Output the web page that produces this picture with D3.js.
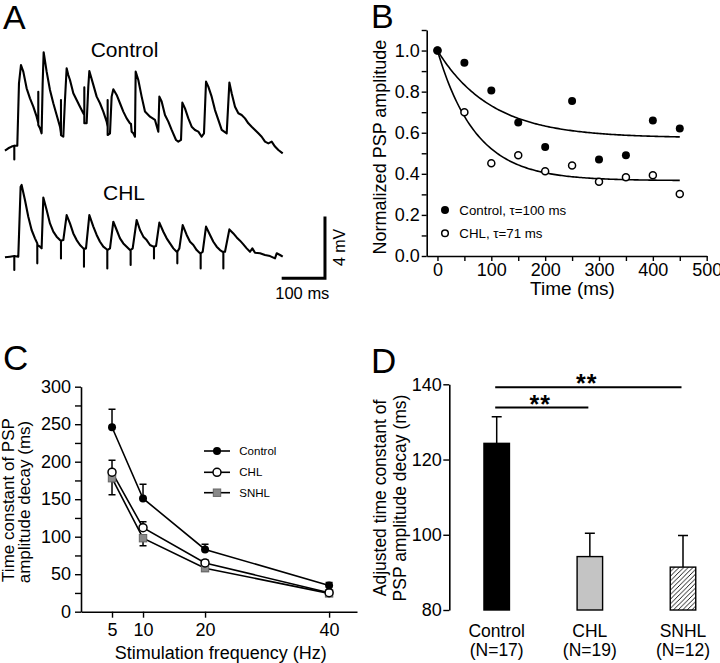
<!DOCTYPE html>
<html><head><meta charset="utf-8">
<script src="https://cdn.jsdelivr.net/npm/d3@7"></script>
<style>
body{margin:0;background:#fff}
svg{display:block}
text{font-family:"Liberation Sans",Arial,Helvetica,sans-serif;fill:#000}
</style>
</head><body>
<svg id="fig" width="720" height="663"></svg>
<script>
// ---------- Panel A: example traces, [time ms, mV] ----------
const traceControl = [[-21.6,-0.04],[-13.9,0.11],[-6.2,0.22],[0,0.28],[0,-0.61],[0,0.28],[6.9,0.28],[10.8,4.32],[15.4,5.51],[20.8,5.08],[28.5,4.0],[36.2,3.35],[43.9,2.81],[51.6,2.16],[55.4,1.73],[55.4,3.78],[55.4,1.62],[59.3,1.41],[63.1,1.08],[65.5,4.32],[67.8,6.34],[74.7,5.08],[82.4,3.89],[90.1,3.03],[97.8,2.27],[105.5,1.51],[107.8,1.08],[107.8,3.24],[107.8,0.97],[113.2,0.86],[117.0,3.24],[120.9,5.30],[124.7,4.86],[128.6,4.54],[132.4,4.11],[136.3,3.68],[144.0,3.24],[151.7,2.81],[159.4,2.38],[161.7,2.27],[161.7,4.06],[161.7,1.73],[167.1,1.73],[170.9,4.11],[173.3,5.12],[182.5,4.22],[190.2,3.46],[197.9,3.03],[205.6,2.49],[213.3,1.84],[215.6,1.51],[215.6,3.24],[215.6,0.97],[221.0,1.08],[224.8,3.46],[228.7,3.94],[236.4,3.57],[244.1,3.03],[251.8,2.49],[259.5,2.05],[267.2,1.73],[269.5,1.69],[271.0,1.19],[274.9,1.08],[278.7,0.86],[280.3,5.08],[286.4,4.54],[294.1,3.46],[301.8,2.49],[313.4,2.16],[324.9,1.95],[332.6,1.19],[335.0,3.46],[340.3,3.14],[348.0,2.27],[355.7,1.84],[363.4,1.30],[373.5,0.65],[378.8,0.54],[385.0,0.65],[388.1,3.07],[394.2,2.70],[401.9,2.05],[409.6,1.51],[417.3,1.30],[425.0,1.19],[432.7,0.86],[438.1,1.08],[442.8,4.43],[448.1,4.11],[455.8,3.46],[463.5,2.59],[471.2,1.95],[479.0,1.30],[490.5,1.08],[496.7,4.37],[502.0,3.68],[509.7,2.81],[517.4,2.38],[525.1,2.27],[532.8,2.05],[540.5,1.73],[548.2,1.51],[555.9,1.30],[563.6,1.08],[571.3,0.86],[579.0,0.54],[586.7,0.43],[594.4,0.54],[602.1,0.22],[609.8,0.00],[619.9,-0.22]];
const traceCHL = [[-21.6,-0.04],[-10.0,0],[0,0.04],[0,-0.86],[0,0.04],[9.2,0],[14.6,4.54],[16.9,4.65],[24.6,3.68],[32.3,2.59],[40.0,1.73],[47.7,1.19],[53.1,0.86],[53.1,-0.43],[53.1,0.76],[59.3,0.65],[63.1,0.54],[67.0,3.83],[74.7,3.03],[82.4,2.16],[90.1,1.62],[97.8,1.30],[105.5,1.08],[107.8,1.04],[107.8,-0.11],[107.8,1.04],[113.2,1.08],[120.9,2.70],[128.6,2.16],[136.3,1.51],[144.0,1.08],[151.7,0.76],[159.4,0.54],[160.9,0.50],[160.9,-0.65],[160.9,0.50],[165.6,0.54],[173.3,2.70],[182.5,1.95],[190.2,1.41],[197.9,0.97],[205.6,0.65],[213.3,0.48],[214.8,0.43],[214.8,-0.76],[214.8,0.43],[221.0,0.54],[228.7,2.27],[236.4,1.73],[244.1,1.19],[251.8,0.86],[259.5,0.65],[267.2,0.43],[268.7,0.43],[268.7,-0.54],[268.7,0.43],[273.4,0.54],[282.6,2.38],[290.3,1.73],[298.0,1.30],[305.7,1.08],[313.4,0.76],[321.1,0.65],[322.6,0.65],[322.6,-0.11],[322.6,0.65],[327.3,0.69],[335.0,2.21],[344.2,1.62],[351.9,1.19],[359.6,0.86],[367.3,0.54],[375.0,0.32],[376.5,0.32],[376.5,-0.43],[376.5,0.32],[381.2,0.54],[388.9,2.05],[398.1,1.41],[405.8,0.97],[413.5,0.76],[421.2,0.43],[428.9,0.22],[430.4,0.22],[430.4,-0.76],[430.4,0.22],[435.1,0.32],[442.8,1.95],[452.0,1.41],[459.7,0.97],[467.4,0.65],[475.1,0.43],[481.3,0.32],[482.8,0.32],[482.8,-0.76],[482.8,0.32],[486.6,0.32],[496.7,1.77],[505.9,1.51],[513.6,1.25],[521.3,1.04],[529.0,0.80],[536.7,0.54],[544.4,0.32],[549.8,0.54],[555.9,0.26],[567.5,0.22],[579.0,0.11],[590.6,0.04],[602.1,-0.11],[606.0,0.22],[613.7,0.11],[619.9,0]];
const traceNames = ["Control", "CHL"];
const scaleBarMs = 100, scaleBarMv = 4;
const scaleBarStart = [617.5, -1.4]; // ms, mV (CHL trace frame)

// ---------- Panel B ----------
const timesB = [0, 50, 100, 150, 200, 250, 300, 350, 400, 450];
const ampControl = [1.0, 0.94, 0.805, 0.65, 0.53, 0.755, 0.47, 0.49, 0.66, 0.62];
const ampCHL = [1.0, 0.70, 0.451, 0.49, 0.412, 0.44, 0.362, 0.383, 0.393, 0.302];
const fitTau = [100, 71];
const fitPlateau = [0.575, 0.367];
const legendB = ["Control, \u03c4=100 ms", "CHL, \u03c4=71 ms"];

// ---------- Panel C ----------
const freqs = [5, 10, 20, 40];
const seriesC = ["Control", "CHL", "SNHL"];
const tauControl = [246, 151, 83, 35];
const tauCHL = [186, 112, 65, 25.3];
const tauSNHL = [178, 98, 58, 24.4];
const errControl = [24, 19, 7, 4];
const errCHL = [16, 8, 4, 3];
const errSNHL = [22, 10, 4, 3];

// ---------- Panel D ----------
const groups = ["Control", "CHL", "SNHL"];
const groupN = ["(N=17)", "(N=19)", "(N=12)"];
const adjTau = [124.3, 94.2, 91.4];
const adjErr = [7.1, 6.2, 8.4];
const sigLevels = [133.8, 139.2]; // Control vs CHL, Control vs SNHL
const sigTargets = ["CHL", "SNHL"];

const svg = d3.select("#fig");
const FONT = '"Liberation Sans",Arial,Helvetica,sans-serif';

function label(x, y, txt, size, opts = {}) {
  const t = svg.append("text").attr("x", x).attr("y", y).text(txt)
    .style("font-size", size + "px")
    .attr("text-anchor", opts.anchor || "start");
  if (opts.rotate) t.attr("transform", `rotate(-90,${x},${y})`);
  if (opts.weight) t.style("font-weight", opts.weight);
  return t;
}
function styleAxis(g, size) {
  g.selectAll("path.domain").attr("stroke", "#000").attr("stroke-width", 1.6);
  g.selectAll(".tick line").attr("stroke", "#000").attr("stroke-width", 1.4);
  g.selectAll(".tick text").style("font-size", size + "px").style("font-family", FONT).attr("fill", "#000");
}

// ---- panel letters ----
label(3, 28.5, "A", 34);
label(371, 28, "B", 34);
label(3, 369.5, "C", 35);
label(371, 373, "D", 35);

// ================= Panel A =================
const xA = d3.scaleLinear().domain([0, 100]).range([14.3, 57.6]);
const yCtrl = d3.scaleLinear().domain([0, 4]).range([150, 88.3]);
const yCHL = d3.scaleLinear().domain([0, 4]).range([256.7, 195]);
const lineA = (ys) => d3.line().x(d => xA(d[0])).y(d => ys(d[1]));
[[traceControl, yCtrl], [traceCHL, yCHL]].forEach(([tr, ys]) => {
  svg.append("path").datum(tr).attr("d", lineA(ys))
    .attr("fill", "none").attr("stroke", "#000").attr("stroke-width", 2.1)
    .attr("stroke-linejoin", "round");
});
label(124.5, 57, traceNames[0], 21, {anchor: "middle"});
label(124, 200, traceNames[1], 21, {anchor: "middle"});
// scale bar
{
  const x0 = xA(scaleBarStart[0]), x1 = xA(scaleBarStart[0] + scaleBarMs);
  const y0 = yCHL(scaleBarStart[1]), y1 = yCHL(scaleBarStart[1] + scaleBarMv);
  svg.append("path").attr("d", `M${x0},${y0}H${x1}V${y1}`)
    .attr("fill", "none").attr("stroke", "#000").attr("stroke-width", 3);
  label((x0 + x1) / 2 - 1, 299, scaleBarMs + " ms", 16.5, {anchor: "middle"});
  label(345, (y0 + y1) / 2, scaleBarMv + " mV", 16, {anchor: "middle", rotate: true});
}

// ================= Panel B =================
const xB = d3.scaleLinear().domain([-20, 500]).range([426.7, 706.7]);
const yB = d3.scaleLinear().domain([0, 1.1]).range([256, 30]);
{
  const gx = svg.append("g").attr("transform", `translate(0,${yB(0)})`)
    .call(d3.axisBottom(xB).tickValues(d3.range(0, 501, 50))
      .tickFormat(d => d % 100 === 0 ? d : "").tickSize(5).tickSizeOuter(0).tickPadding(2));
  styleAxis(gx, 18);
  const gy = svg.append("g").attr("transform", `translate(${xB(-20)},0)`)
    .call(d3.axisLeft(yB).tickValues(d3.range(0, 11.5, 1).map(v => v / 10))
      .tickFormat(d => Math.round(d * 10) % 2 === 0 ? d3.format(".1f")(d) : "").tickSize(5).tickSizeOuter(0).tickPadding(2));
  styleAxis(gy, 18);
  label(386, 147, "Normalized PSP amplitude", 18, {anchor: "middle", rotate: true});
  label(572.5, 295, "Time (ms)", 19, {anchor: "middle"});
  // fits
  const tFit = d3.range(0, 451, 3);
  fitTau.forEach((tau, i) => {
    const pts = tFit.map(t => [t, fitPlateau[i] + (1 - fitPlateau[i]) * Math.exp(-t / tau)]);
    svg.append("path").datum(pts)
      .attr("d", d3.line().x(d => xB(d[0])).y(d => yB(d[1])))
      .attr("fill", "none").attr("stroke", "#000").attr("stroke-width", 1.6);
  });
  // points
  svg.append("g").selectAll("circle").data(timesB.map((t, i) => [t, ampCHL[i]])).join("circle")
    .attr("cx", d => xB(d[0])).attr("cy", d => yB(d[1])).attr("r", 3.5)
    .attr("fill", "#fff").attr("stroke", "#000").attr("stroke-width", 1.5);
  svg.append("g").selectAll("circle").data(timesB.map((t, i) => [t, ampControl[i]])).join("circle")
    .attr("cx", d => xB(d[0])).attr("cy", d => yB(d[1])).attr("r", 4)
    .attr("fill", "#000");
  // legend
  svg.append("circle").attr("cx", 445).attr("cy", 210).attr("r", 4).attr("fill", "#000");
  svg.append("circle").attr("cx", 445).attr("cy", 233.3).attr("r", 3.3).attr("fill", "#fff")
    .attr("stroke", "#000").attr("stroke-width", 1.5);
  label(459.3, 214.6, legendB[0], 13.3);
  label(459.3, 237.9, legendB[1], 13.3);
}

// ================= Panel C =================
const xC = d3.scaleLinear().domain([0, 44.5]).range([81, 357]);
const yC = d3.scaleLinear().domain([0, 300]).range([611.7, 386.7]);
{
  const gx = svg.append("g").attr("transform", `translate(0,${yC(0)})`)
    .call(d3.axisBottom(xC).tickValues(freqs).tickSize(6).tickSizeOuter(0).tickPadding(6));
  styleAxis(gx, 18);
  const gy = svg.append("g").attr("transform", `translate(${xC(0)},0)`)
    .call(d3.axisLeft(yC).tickValues(d3.range(0, 301, 25))
      .tickFormat(d => d % 50 === 0 ? d : "").tickSize(6).tickSizeOuter(0).tickPadding(4));
  styleAxis(gy, 18);
  label(13.5, 500, "Time constant of PSP", 17, {anchor: "middle", rotate: true});
  label(29.5, 502, "amplitude decay (ms)", 17, {anchor: "middle", rotate: true});
  label(220.8, 659, "Stimulation frequency (Hz)", 18, {anchor: "middle"});

  const vals = {Control: tauControl, CHL: tauCHL, SNHL: tauSNHL};
  const errs = {Control: errControl, CHL: errCHL, SNHL: errSNHL};
  const dir = {Control: 1, CHL: 1, SNHL: -1};
  const mk = {
    Control: sel => sel.append("circle").attr("r", 4).attr("fill", "#000"),
    CHL: sel => sel.append("circle").attr("r", 4).attr("fill", "#fff").attr("stroke", "#000").attr("stroke-width", 1.5),
    SNHL: sel => sel.append("rect").attr("x", -3.7).attr("y", -3.7).attr("width", 7.4).attr("height", 7.4)
      .attr("fill", "#8a8a8a").attr("stroke", "#666").attr("stroke-width", 1)
  };
  const order = ["SNHL", "CHL", "Control"];
  order.forEach(s => {
    const pts = freqs.map((f, i) => [f, vals[s][i], errs[s][i]]);
    svg.append("path").datum(pts).attr("d", d3.line().x(d => xC(d[0])).y(d => yC(d[1])))
      .attr("fill", "none").attr("stroke", "#000").attr("stroke-width", 1.6);
    pts.forEach(p => {
      const ye = yC(p[1] + dir[s] * p[2]);
      svg.append("path").attr("d", `M${xC(p[0])},${yC(p[1])}V${ye}M${xC(p[0]) - 3.5},${ye}H${xC(p[0]) + 3.5}`)
        .attr("stroke", "#000").attr("stroke-width", 1.5).attr("fill", "none");
    });
  });
  order.forEach(s => {
    freqs.forEach((f, i) => {
      mk[s](svg.append("g").attr("transform", `translate(${xC(f)},${yC(vals[s][i])})`));
    });
  });
  // legend
  const legY = [451, 472.3, 492.7];
  seriesC.forEach((s, i) => {
    svg.append("line").attr("x1", 204).attr("x2", 230).attr("y1", legY[i]).attr("y2", legY[i])
      .attr("stroke", "#000").attr("stroke-width", 1.6);
    mk[s](svg.append("g").attr("transform", `translate(217,${legY[i]})`));
    label(239.3, legY[i] + 4, s, 11.5);
  });
}

// ================= Panel D =================
const xD = d3.scalePoint().domain(groups).range([496.7, 683]);
const yD = d3.scaleLinear().domain([80, 140]).range([610, 384.3]);
{
  const defs = svg.append("defs");
  const pat = defs.append("pattern").attr("id", "hatch").attr("patternUnits", "userSpaceOnUse")
    .attr("width", 4.6).attr("height", 4.6);
  pat.append("rect").attr("width", 4.6).attr("height", 4.6).attr("fill", "#fff");
  pat.append("path").attr("d", "M0,4.6L4.6,0M-1,1L1,-1M3.6,5.6L5.6,3.6")
    .attr("stroke", "#000").attr("stroke-width", 0.9);

  const gy = svg.append("g").attr("transform", `translate(449.3,0)`)
    .call(d3.axisLeft(yD).tickValues([80, 100, 120, 140]).tickSize(6).tickSizeOuter(0).tickPadding(1.6));
  styleAxis(gy, 18);
  label(386, 498, "Adjusted time constant of", 17.5, {anchor: "middle", rotate: true});
  label(406, 498, "PSP amplitude decay (ms)", 17.5, {anchor: "middle", rotate: true});

  const fills = ["#000", "#c4c4c4", "url(#hatch)"];
  const bw = 25.5;
  groups.forEach((g, i) => {
    const cx = xD(g);
    svg.append("path").attr("d", `M${cx},${yD(adjTau[i])}V${yD(adjTau[i] + adjErr[i])}M${cx - 5},${yD(adjTau[i] + adjErr[i])}H${cx + 5}`)
      .attr("stroke", "#000").attr("stroke-width", 1.5).attr("fill", "none");
    svg.append("rect").attr("x", cx - bw / 2).attr("y", yD(adjTau[i]))
      .attr("width", bw).attr("height", yD(80) - yD(adjTau[i]))
      .attr("fill", fills[i]).attr("stroke", "#000").attr("stroke-width", 1.4);
    label(cx, 637, g, 17.5, {anchor: "middle"});
    label(cx, 656, groupN[i], 17.5, {anchor: "middle"});
  });
  // significance
  sigTargets.forEach((g, i) => {
    const y = yD(sigLevels[i]);
    svg.append("line").attr("x1", xD("Control") - 1.5).attr("x2", xD(g) - 1.5)
      .attr("y1", y).attr("y2", y).attr("stroke", "#000").attr("stroke-width", 2);
    label((xD("Control") + xD(g)) / 2 - 3, y + 5, "**", 25, {anchor: "middle", weight: "bold"})
      .attr("letter-spacing", "1px");
  });
}
</script>
</body></html>
